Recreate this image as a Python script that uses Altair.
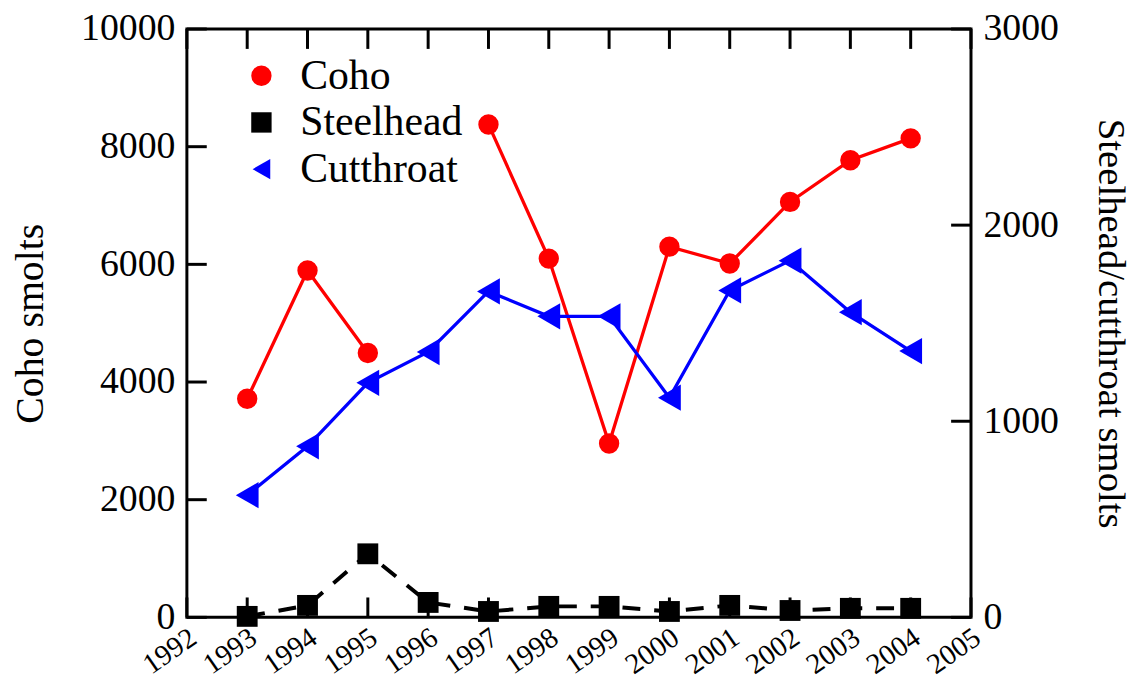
import altair as alt
import pandas as pd

years = [1993, 1994, 1995, 1996, 1997, 1998, 1999, 2000, 2001, 2002, 2003, 2004]
coho = [3716, 5895, 4493, None, 8378, 6098, 2956, 6301, 6014, 7061, 7770, 8142]
steelhead = [5, 61, 324, 76, 30, 56, 56, 30, 61, 35, 46, 46]
cutthroat = [623, 872, 1196, 1353, 1662, 1535, 1535, 1120, 1667, 1819, 1556, 1358]

series_names = ["Coho", "Steelhead", "Cutthroat"]
series_colors = ["#ff0000", "#000000", "#0000ff"]
series_shapes = ["circle", "square", "triangle-left"]

x_ticks = list(range(1992, 2006))
left_ticks = [0, 2000, 4000, 6000, 8000, 10000]
right_ticks = [0, 1000, 2000, 3000]

W, H = 789, 592
FONT = "Liberation Serif"
TICK = 20

rows = []
for i, yr in enumerate(years):
    rows.append({"year": yr, "series": "Coho", "value": coho[i]})
    rows.append({"year": yr, "series": "Steelhead", "value": steelhead[i]})
    rows.append({"year": yr, "series": "Cutthroat", "value": cutthroat[i]})
df = pd.DataFrame(rows)

xt_df = pd.DataFrame({"year": x_ticks})
lt_df = pd.DataFrame({"value": left_ticks})
rt_df = pd.DataFrame({"value": right_ticks})

x_scale = alt.Scale(domain=[1992, 2005], nice=False, zero=False)
yl_scale = alt.Scale(domain=[0, 10000], nice=False)
yr_scale = alt.Scale(domain=[0, 3000], nice=False)

x_axis = alt.Axis(values=x_ticks, format="d", ticks=False, domain=False, grid=False,
                  labelAngle=325, labelAlign="right", labelBaseline="middle",
                  labelFontSize=29, labelPadding=17, labelOffset=6, labelFlush=False,
                  labelOverlap=False, title=None)
yl_axis = alt.Axis(values=left_ticks, format="d", ticks=False, domain=False, grid=False,
                   labelFontSize=38, labelPadding=12, title="Coho smolts",
                   titleFontSize=40, titleFontWeight="normal", titlePadding=30)
yr_axis = alt.Axis(orient="right", values=right_ticks, format="d", ticks=False, domain=False,
                   grid=False, labelFontSize=38, labelPadding=12,
                   title="Steelhead/cutthroat smolts", titleFontSize=39,
                   titleFontWeight="normal", titlePadding=32)

X = alt.X("year:Q", scale=x_scale, axis=x_axis)
YL = alt.Y("value:Q", scale=yl_scale, axis=yl_axis)
YR = alt.Y("value:Q", scale=yr_scale, axis=yr_axis)

legend = alt.Legend(title=None, orient="none", legendX=54, legendY=26, labelLimit=400)
color_enc = alt.Color("series:N",
                      scale=alt.Scale(domain=series_names, range=series_colors),
                      legend=legend)
shape_enc = alt.Shape("series:N",
                      scale=alt.Scale(domain=series_names, range=series_shapes),
                      legend=legend)

base = alt.Chart(df)

coho_line = base.mark_line(color="#ff0000", strokeWidth=3.3).transform_filter(
    "datum.series == 'Coho' && isValid(datum.value)"
).transform_calculate(seg="datum.year < 1996 ? 0 : 1").encode(
    x=X, y=YL, detail="seg:N",
)

coho_pts = base.mark_point(filled=True, opacity=1, size=420).transform_filter(
    "datum.series == 'Coho' && isValid(datum.value)"
).encode(x=X, y=YL, color=color_enc, shape=shape_enc)

xt_bottom = alt.Chart(xt_df).mark_rule(color="black", strokeWidth=3).encode(
    x=X, y=alt.value(H), y2=alt.value(H - TICK))
xt_top = alt.Chart(xt_df).mark_rule(color="black", strokeWidth=3).encode(
    x=X, y=alt.value(0), y2=alt.value(TICK))
lt = alt.Chart(lt_df).mark_rule(color="black", strokeWidth=3).encode(
    y=YL, x=alt.value(0), x2=alt.value(TICK))

left = alt.layer(coho_line, xt_bottom, xt_top, lt, coho_pts)

steel_line = base.mark_line(color="#000000", strokeWidth=4, strokeDash=[18, 14]).transform_filter(
    "datum.series == 'Steelhead'"
).encode(x=X, y=YR)
cut_line = base.mark_line(color="#0000ff", strokeWidth=3.3).transform_filter(
    "datum.series == 'Cutthroat'"
).encode(x=X, y=YR)
right_pts = base.mark_point(filled=True, opacity=1).transform_filter(
    "datum.series != 'Coho'"
).encode(
    x=X, y=YR, color=color_enc, shape=shape_enc,
    size=alt.condition("datum.series == 'Cutthroat'", alt.value(700), alt.value(440)),
)
rt = alt.Chart(rt_df).mark_rule(color="black", strokeWidth=3).encode(
    y=YR, x=alt.value(W - TICK), x2=alt.value(W))

right = alt.layer(steel_line, cut_line, rt, right_pts)

chart = alt.layer(left, right).resolve_scale(y="independent").properties(
    width=W, height=H,
    padding={"left": 180, "top": 19, "right": 160, "bottom": 80},
    autosize=alt.AutoSizeParams(type="none"),
).configure(font=FONT).configure_view(
    stroke="black", strokeWidth=3
).configure_axis(
    labelFont=FONT, titleFont=FONT, labelColor="black", titleColor="black"
).configure_legend(
    labelFont=FONT, labelFontSize=42, labelColor="black", symbolSize=420,
    labelOffset=18, rowPadding=5, symbolStrokeWidth=0
)

chart.save("out.html", embed_options={"renderer": "svg", "actions": False})
